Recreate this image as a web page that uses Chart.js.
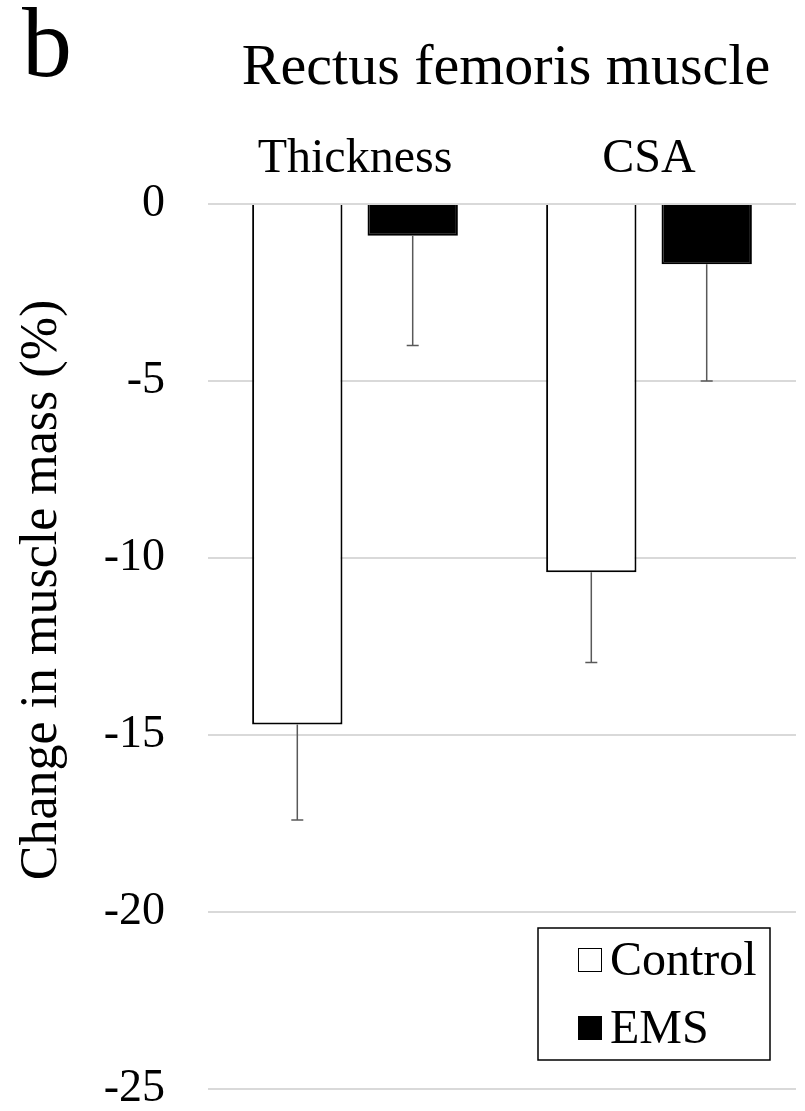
<!DOCTYPE html>
<html>
<head>
<meta charset="utf-8">
<script src="https://cdn.jsdelivr.net/npm/chart.js@4"></script>
<style>
  body { margin: 0; background: #fff; }
  #wrap { width: 805px; height: 1111px; }
</style>
</head>
<body>
<div id="wrap"><canvas id="chart" width="805" height="1111"></canvas></div>
<script>
const categories = ['Thickness', 'CSA'];
const controlValues = [-14.7, -10.4];
const emsValues = [-0.9, -1.7];
const controlErrors = [2.7, 2.55];
const emsErrors = [3.1, 3.3];
const yTicks = [0, -5, -10, -15, -20, -25];
const yTitle = 'Change in muscle mass (%)';

const serif = '"Liberation Serif", "Times New Roman", serif';

// one-sided (downward) error bars
const errorBars = {
    id: 'errorBars',
    afterDatasetsDraw(chart) {
        const ctx = chart.ctx;
        const yScale = chart.scales.y;
        chart.data.datasets.forEach((ds, i) => {
            const meta = chart.getDatasetMeta(i);
            meta.data.forEach((bar, j) => {
                const endY = yScale.getPixelForValue(ds.data[j] - ds.errors[j]);
                ctx.save();
                ctx.strokeStyle = '#595959';
                ctx.lineWidth = 1.5;
                ctx.beginPath();
                ctx.moveTo(bar.x, bar.y);
                ctx.lineTo(bar.x, endY);
                ctx.moveTo(bar.x - 6, endY);
                ctx.lineTo(bar.x + 6, endY);
                ctx.stroke();
                ctx.restore();
            });
        });
    }
};

// panel letter, title and y axis title
const headings = {
    id: 'headings',
    afterDraw(chart) {
        const ctx = chart.ctx;
        const area = chart.chartArea;
        ctx.save();
        ctx.fillStyle = '#000';
        ctx.textBaseline = 'alphabetic';
        ctx.textAlign = 'left';
        ctx.font = '100px ' + serif;
        ctx.fillText('b', 22, 76);
        ctx.textAlign = 'center';
        ctx.font = '58px ' + serif;
        ctx.fillText('Rectus femoris muscle', (area.left + area.right) / 2 + 4, 84);

        ctx.translate(42, 590);
        ctx.rotate(-Math.PI / 2);
        ctx.textBaseline = 'middle';
        ctx.font = '52px ' + serif;
        ctx.fillText(yTitle, 0, 0);
        ctx.restore();
    }
};

// legend box inside the plot
const boxLegend = {
    id: 'boxLegend',
    afterDraw(chart) {
        const ctx = chart.ctx;
        const area = chart.chartArea;
        const w = 232, h = 132;
        const left = area.right - 26 - w;
        const top = area.bottom - 29 - h;
        ctx.save();
        ctx.fillStyle = '#fff';
        ctx.fillRect(left, top, w, h);
        ctx.strokeStyle = '#000';
        ctx.lineWidth = 1.5;
        ctx.strokeRect(left, top, w, h);
        ctx.font = '48px ' + serif;
        ctx.textBaseline = 'alphabetic';
        ctx.textAlign = 'left';
        chart.data.datasets.forEach((ds, i) => {
            const rowY = top + 20 + i * 68;
            ctx.fillStyle = ds.backgroundColor;
            ctx.fillRect(left + 40, rowY, 24, 24);
            ctx.strokeStyle = '#000';
            ctx.lineWidth = 1;
            ctx.strokeRect(left + 40.5, rowY + 0.5, 23, 23);
            ctx.fillStyle = '#000';
            ctx.fillText(ds.label, left + 72, rowY + 27);
        });
        ctx.restore();
    }
};

new Chart(document.getElementById('chart'), {
    type: 'bar',
    data: {
        labels: categories,
        datasets: [
            {
                label: 'Control',
                data: controlValues,
                errors: controlErrors,
                backgroundColor: '#ffffff',
                borderColor: '#000000',
                borderWidth: 2,
                categoryPercentage: 0.785,
                barPercentage: 0.783
            },
            {
                label: 'EMS',
                data: emsValues,
                errors: emsErrors,
                backgroundColor: '#000000',
                borderColor: '#000000',
                borderWidth: 2,
                categoryPercentage: 0.785,
                barPercentage: 0.783
            }
        ]
    },
    options: {
        responsive: false,
        animation: false,
        layout: { padding: { top: 0, right: 9, bottom: 22, left: 0 } },
        plugins: {
            legend: { display: false },
            title: { display: false },
            tooltip: { enabled: false }
        },
        scales: {
            x: {
                position: 'top',
                grid: { display: false, drawTicks: false },
                border: { display: false },
                ticks: {
                    color: '#000',
                    padding: 16,
                    font: { family: serif, size: 48 }
                },
                afterFit: (scale) => { scale.height = 204; }
            },
            y: {
                min: -25,
                max: 0,
                afterBuildTicks: (scale) => {
                    scale.ticks = yTicks.map(v => ({ value: v }));
                },
                grid: { color: '#d9d9d9', lineWidth: 2, drawTicks: false },
                border: { display: false },
                ticks: {
                    color: '#000',
                    padding: 43,
                    font: { family: serif, size: 46 }
                },
                afterFit: (scale) => {
                    scale.width = 208;
                    scale.paddingTop = 0;
                    scale.paddingBottom = 0;
                }
            }
        }
    },
    plugins: [errorBars, headings, boxLegend]
});
</script>
</body>
</html>
